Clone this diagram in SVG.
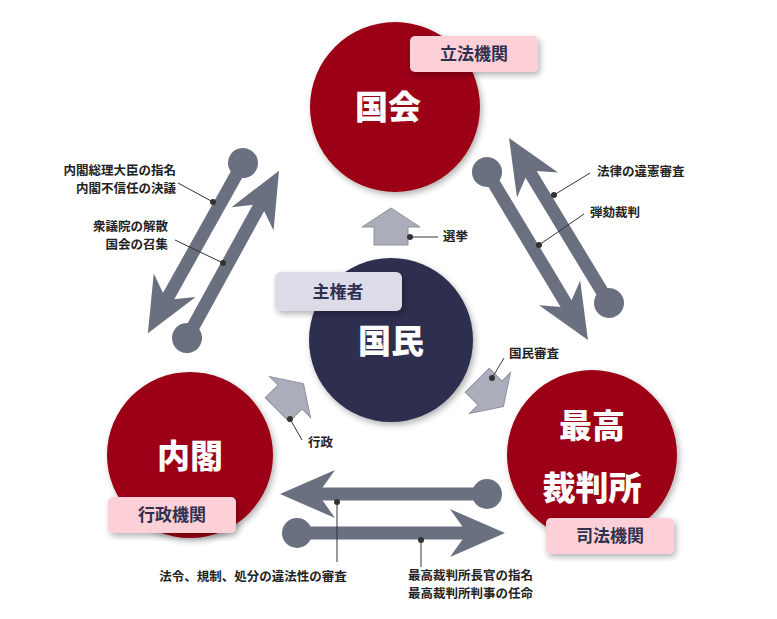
<svg xmlns="http://www.w3.org/2000/svg" width="777" height="619" viewBox="0 0 777 619">
<defs>
<filter id="sh" x="-20%" y="-20%" width="140%" height="140%"><feDropShadow dx="2" dy="3" stdDeviation="3" flood-color="#000" flood-opacity="0.3"/></filter>
<style>
.lbl{font-family:"Noto Sans CJK JP","Liberation Sans",sans-serif;font-size:12.5px;font-weight:bold;fill:#222}
.ttl{font-family:"Noto Sans CJK JP","Liberation Sans",sans-serif;font-size:33px;font-weight:900;fill:#fff;text-anchor:middle}
.bdg{font-family:"Noto Sans CJK JP","Liberation Sans",sans-serif;font-size:17px;font-weight:bold;fill:#303050;text-anchor:middle}
.ar line{stroke:#6b7080;stroke-width:13}
.ar circle,.ar path{fill:#6b7080}
.blk{fill:#abadbb;stroke:#8e90a0;stroke-width:1}
.ld{stroke:#333;stroke-width:1;fill:none}
.dot{fill:#333}
</style>
</defs>
<g id="kokkai"><circle cx="395" cy="107" r="85" fill="#9b0012" filter="url(#sh)"/><text class="ttl" x="388" y="119">国会</text>
<rect x="410" y="36" width="128" height="36" rx="5" fill="#fcd0d6" filter="url(#sh)"/><text class="bdg" x="474" y="60">立法機関</text></g>
<g id="kokumin"><circle cx="391" cy="340" r="82" fill="#2e2e4f" filter="url(#sh)"/><text class="ttl" x="391" y="353">国民</text>
<rect x="275" y="272" width="127" height="39" rx="6" fill="#dcdbe8" filter="url(#sh)"/><text class="bdg" x="338" y="298">主権者</text></g>
<g id="naikaku"><circle cx="190" cy="455" r="83" fill="#9b0012" filter="url(#sh)"/><text class="ttl" x="190" y="468">内閣</text>
<rect x="108" y="497" width="128" height="36" rx="5" fill="#fcd0d6" filter="url(#sh)"/><text class="bdg" x="172" y="521">行政機関</text></g>
<g id="saibansho"><circle cx="592" cy="455" r="85" fill="#9b0012" filter="url(#sh)"/><text class="ttl" x="592" y="438">最高</text><text class="ttl" x="592" y="500">裁判所</text>
<rect x="546" y="518" width="128" height="36" rx="5" fill="#fcd0d6" filter="url(#sh)"/><text class="bdg" x="610" y="542">司法機関</text></g>
<g id="connectors">
<g class="ar" transform="translate(243,163) rotate(119.2)"><circle r="15"/><line x1="0" y1="0" x2="160" y2="0"/><path d="M195,0 L140,-24 L157,0 L140,24 Z"/></g>
<g class="ar" transform="translate(187,338) rotate(-61.2)"><circle r="15"/><line x1="0" y1="0" x2="156" y2="0"/><path d="M191,0 L136,-24 L153,0 L136,24 Z"/></g>
<g class="ar" transform="translate(609,303) rotate(-121.2)"><circle r="15"/><line x1="0" y1="0" x2="158" y2="0"/><path d="M193,0 L138,-24 L155,0 L138,24 Z"/></g>
<g class="ar" transform="translate(487,172) rotate(59)"><circle r="15"/><line x1="0" y1="0" x2="161" y2="0"/><path d="M196,0 L141,-24 L158,0 L141,24 Z"/></g>
<g class="ar" transform="translate(487,494) rotate(180)"><circle r="15"/><line x1="0" y1="0" x2="172" y2="0"/><path d="M207,0 L152,-24 L169,0 L152,24 Z"/></g>
<g class="ar" transform="translate(297,533)"><circle r="15"/><line x1="0" y1="0" x2="173" y2="0"/><path d="M208,0 L153,-24 L170,0 L153,24 Z"/></g>
<path class="blk" d="M0,-19 L29,0 L17,0 L17,18 L-17,18 L-17,0 L-29,0 Z" transform="translate(391,227)"/>
<path class="blk" d="M0,-19 L29,0 L17,0 L17,18 L-17,18 L-17,0 L-29,0 Z" transform="translate(290,397) rotate(45)"/>
<path class="blk" d="M0,-19 L29,0 L17,0 L17,18 L-17,18 L-17,0 L-29,0 Z" transform="translate(490,393) rotate(135)"/>
<path class="ld" d="M410,237 H438"/><circle class="dot" cx="410" cy="237" r="3"/>
<path class="ld" d="M290,419 L302,440"/><circle class="dot" cx="290" cy="419" r="3"/>
<path class="ld" d="M492,378 L504,358"/><circle class="dot" cx="492" cy="378" r="3"/>
<path class="ld" d="M178,183 L213,202"/><circle class="dot" cx="213" cy="202" r="3"/>
<path class="ld" d="M175,240 L223,263"/><circle class="dot" cx="223" cy="263" r="3"/>
<path class="ld" d="M590,173 L554,195"/><circle class="dot" cx="554" cy="195" r="3"/>
<path class="ld" d="M584,214 L539,245"/><circle class="dot" cx="539" cy="245" r="3"/>
<path class="ld" d="M337,502 V562"/><circle class="dot" cx="337" cy="502" r="3"/>
<path class="ld" d="M421,540 V567"/><circle class="dot" cx="421" cy="540" r="3"/>
</g>
<g id="labels">
<text class="lbl" x="443" y="241">選挙</text>
<text class="lbl" x="308" y="447">行政</text>
<text class="lbl" x="509" y="358">国民審査</text>
<text class="lbl" x="176" y="175" text-anchor="end">内閣総理大臣の指名</text>
<text class="lbl" x="176" y="193" text-anchor="end">内閣不信任の決議</text>
<text class="lbl" x="168" y="231" text-anchor="end">衆議院の解散</text>
<text class="lbl" x="168" y="249" text-anchor="end">国会の召集</text>
<text class="lbl" x="597" y="176">法律の違憲審査</text>
<text class="lbl" x="590" y="217">弾劾裁判</text>
<text class="lbl" x="253" y="581" text-anchor="middle">法令、規制、処分の違法性の審査</text>
<text class="lbl" x="408" y="580">最高裁判所長官の指名</text>
<text class="lbl" x="408" y="598">最高裁判所判事の任命</text>
</g>
</svg>
